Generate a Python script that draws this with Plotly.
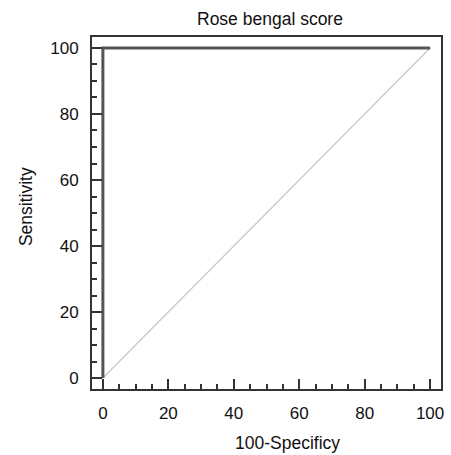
import plotly.graph_objects as go

roc_x = [0, 0, 100]
roc_y = [0, 100, 100]
ref_x = [0, 100]
ref_y = [0, 100]
tick_vals = [0, 20, 40, 60, 80, 100]
title_text = "Rose bengal score"
x_title = "100-Specificy"
y_title = "Sensitivity"

FONT = "Liberation Sans, Arial"
W, H = 451, 455

fig = go.Figure()
fig.add_trace(go.Scatter(x=ref_x, y=ref_y, mode="lines",
                         line=dict(color="#c8c8c8", width=1.2), showlegend=False))
fig.add_trace(go.Scatter(x=roc_x, y=roc_y, mode="lines",
                         line=dict(color="#555555", width=3), showlegend=False))

axis_common = dict(
    range=[-3.33, 103.33], tickvals=tick_vals, ticks="inside", ticklen=10, tickwidth=2,
    tickcolor="#333333", showline=True, linecolor="#333333", linewidth=2, mirror=True,
    showgrid=False, zeroline=False, tickfont=dict(family=FONT, size=17, color="#111"),
    minor=dict(dtick=5, ticks="inside", ticklen=5, tickwidth=1.5, tickcolor="#333333", showgrid=False),
    ticklabelstandoff=8,
)

fig.update_layout(
    width=W, height=H,
    margin=dict(l=92, r=7, t=37, b=66),
    paper_bgcolor="white", plot_bgcolor="white",
    xaxis=dict(**axis_common),
    yaxis=dict(**axis_common),
    annotations=[
        dict(text=title_text, xref="paper", yref="paper", x=(271.5 - 92) / (W - 99), y=1 + (37 - 19) / (H - 103),
             xanchor="center", yanchor="middle", showarrow=False,
             font=dict(family=FONT, size=17.5, color="#111")),
        dict(text=x_title, xref="paper", yref="paper", x=(289.5 - 92) / (W - 99), y=-(443 - 389) / (H - 103),
             xanchor="center", yanchor="middle", showarrow=False,
             font=dict(family=FONT, size=17.5, color="#111")),
        dict(text=y_title, xref="paper", yref="paper", x=-(92 - 25) / (W - 99), y=(389 - 206.5) / (H - 103),
             xanchor="center", yanchor="middle", showarrow=False, textangle=-90,
             font=dict(family=FONT, size=17.5, color="#111")),
    ],
)
fig.write_html("out.html")
